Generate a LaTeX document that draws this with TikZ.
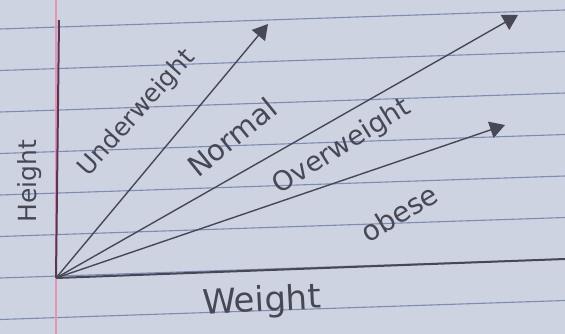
\documentclass[tikz,border=0pt]{standalone}
\usepackage{fontspec}
\setmainfont{DejaVu Sans}
\usetikzlibrary{arrows.meta}
\definecolor{paper}{RGB}{206,211,226}
\definecolor{ruling}{RGB}{125,140,178}
\definecolor{margin}{RGB}{226,150,180}
\definecolor{pencil}{RGB}{72,72,84}
\definecolor{axisv}{RGB}{92,52,88}
\begin{document}
\begin{tikzpicture}[x=1pt,y=-1pt,
  rule/.style={ruling,line width=1.1pt},
  ax/.style={pencil,line width=2pt},
  ray/.style={pencil,line width=1.4pt,-{Triangle[length=15pt,width=17pt]}},
  lbl/.style={pencil,inner sep=0pt,font=\fontsize{25}{27}\selectfont}]
  \useasboundingbox[fill=paper] (0,0) rectangle (565,334);
  % ruled paper
  \foreach \k in {0,...,7}
    \draw[rule] (0,29+41.5*\k) -- (565,10+41.5*\k);
  \draw[margin,line width=1.2pt] (56,0) -- (56,334);
  % axes
  \coordinate (o) at (56,278);
  \coordinate (ytop) at (59,20);
  \coordinate (xend) at (565,259);
  \draw[axisv,line width=2pt] (o) -- (ytop);
  \draw[ax] (o) -- (xend);
  % rays
  \coordinate (t1) at (268,24);
  \coordinate (t2) at (518,15);
  \coordinate (t3) at (505,125);
  \draw[ray] (o) -- (t1);
  \draw[ray] (o) -- (t2);
  \draw[ray] (o) -- (t3);
  % labels
  \node[lbl,rotate=90] (height) at (30,181) {Height};
  \node[lbl,rotate=3,font=\fontsize{34}{36}\selectfont] (weight) at (262,302) {Weight};
  \node[lbl,rotate=48] (under) at (137,113) {Underweight};
  \node[lbl,rotate=39,font=\fontsize{29}{31}\selectfont] (normal) at (232,137) {Normal};
  \node[lbl,rotate=32,font=\fontsize{27}{29}\selectfont] (over) at (342,147) {Overweight};
  \node[lbl,rotate=31,font=\fontsize{28}{30}\selectfont] (obese) at (399,213) {obese};
\end{tikzpicture}
\end{document}
